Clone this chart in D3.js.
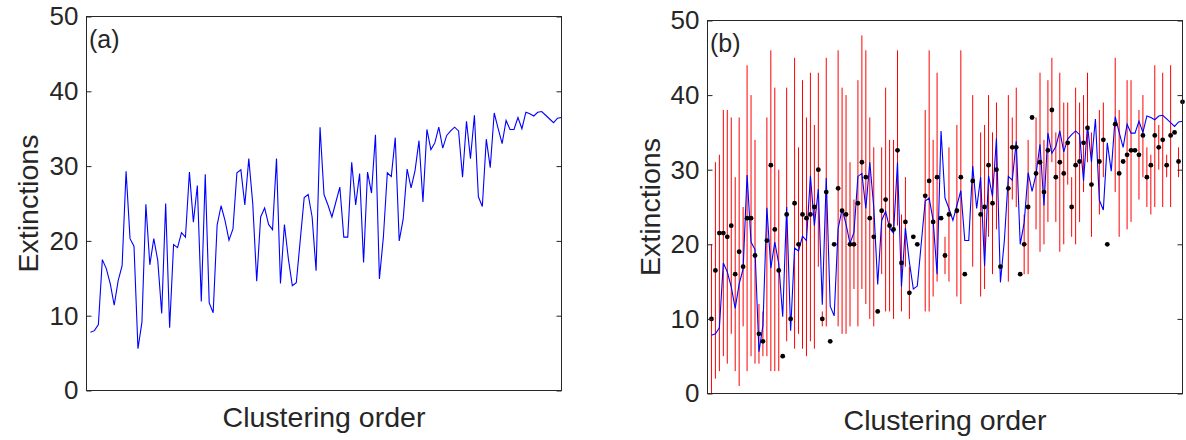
<!DOCTYPE html>
<html>
<head>
<meta charset="utf-8">
<script src="https://cdn.jsdelivr.net/npm/d3@7"></script>
<style>
  html, body { margin: 0; padding: 0; background: #fff; }
  svg { display: block; }
  text { font-family: "Liberation Sans", Arial, Helvetica, sans-serif; fill: #262626; }
</style>
</head>
<body>
<svg id="fig" width="1186" height="440"></svg>
<script>
// Mean extinctions per position in the clustering order (blue line, both panels)
const meanExt = [
  7.8, 8.0, 8.8, 17.5, 16.3, 14.3, 11.4, 14.7, 16.7, 29.3,
  20.3, 19.3, 5.6, 9.1, 24.9, 16.8, 20.3, 17.4, 10.3, 25.0,
  8.4, 19.5, 19.1, 21.1, 20.5, 29.2, 22.5, 27.4, 11.9, 28.9,
  11.7, 10.4, 22.1, 24.7, 22.7, 20.1, 21.6, 29.1, 29.5, 24.8,
  31.0, 25.0, 14.6, 23.2, 24.4, 22.2, 21.5, 31.0, 14.3, 22.2,
  17.6, 14.0, 14.4, 20.1, 25.8, 26.2, 23.2, 16.0, 35.2, 26.2,
  24.8, 23.2, 25.2, 27.2, 20.5, 20.5, 30.5, 24.8, 29.0, 17.1,
  29.2, 26.4, 34.2, 14.9, 20.5, 29.1, 28.6, 33.8, 20.0, 22.9,
  29.6, 27.1, 29.4, 33.4, 25.2, 34.9, 32.2, 33.1, 35.2, 32.4,
  34.1, 34.7, 35.2, 34.7, 28.5, 36.0, 31.0, 36.8, 25.9, 24.6,
  33.6, 29.8, 37.1, 35.0, 33.0, 36.1, 34.9, 34.9, 36.5, 35.0,
  37.2, 37.0, 36.7, 37.2, 37.3, 36.8, 36.3, 35.8, 36.4, 36.5
];

// Observed extinctions (black dots); null = no observation
const observed = [
  10, 16.5, 21.5, 21.5, 21.0, 22.5, 16.0, 19.0, 17.0, 23.5,
  23.5, 18.5, 8.0, 7.0, 20.5, 30.6, 22.0, 16.5, 5.0, 24.0,
  10.0, 25.5, 20.0, 24.0, 23.5, 24.0, 25.0, 30.0, 10.0, 27.0,
  7.0, 20.0, 27.5, 24.5, 24.0, 20.0, 20.0, 25.5, 31.0, 29.0,
  23.5, 21.0, 11.0, 24.5, 26.0, 22.5, 22.0, 32.6, 17.5, 23.0,
  13.5, 21.0, 20.0, null, 26.5, 28.5, 23.0, 29.0, 23.5, 18.5,
  24.0, null, 24.5, 29.0, 16.0, null, 28.5, null, 24.0, 25.0,
  30.6, 25.5, 30.0, 17.0, null, 27.5, 33.0, 33.0, 16.0, 20.0,
  25.0, 37.0, 29.5, 31.0, 27.0, 32.6, 38.0, 29.0, 31.0, 29.5,
  33.6, 25.0, 30.6, 31.1, 33.6, 35.6, 28.0, null, 31.1, 34.0,
  20.0, null, 36.1, 29.5, 31.1, 32.0, 32.6, 32.6, 32.0, 34.6,
  29.0, 30.6, 34.6, 33.0, 34.0, 30.6, 34.6, 35.0, 31.1, 39.1
];

// Range of extinctions (red bars): lower and upper ends; null = no range
const rangeLow = [
  0, 2, 3, 5, 4, 8, 3, 1, 9, 3,
  5, 4, 4, 5, 5, 3, 3, 3, null, 7,
  null, 6, 8, 6, 5, 7, 6, 17, 9, 9,
  null, null, 9, 8, 8, 9, 14, 9, 14, 12,
  10, 9, null, 16, 11, 11, 10, 22.5, 11, 17,
  10, null, null, null, 11, 11, 13, 15, null, 16,
  15, null, 13, 12, null, null, 17, null, 13, 14,
  21, 16, 22, null, null, 15, 26, 25, null, 16,
  16, null, 22, 19, 20, 23, 31, 23, 19, 20,
  28, 21, 20, 23, 27, 31, 21, null, 24, 29,
  null, null, 27, 21, null, 22, 23, null, 26, 29,
  25, 24, 25, 30, 25, 29, 25, null, 29, 37
];
const rangeHigh = [
  20, 31, 32, 38, 38, 37, 29, 37, 25, 44,
  40, 34, 12, 11, 37, 46, 41, 30, null, 41,
  null, 45, 33, 42, 37, 43, 36, 43, 11, 45,
  null, null, 46, 41, 40, 31, 26, 42, 48, 46,
  37, 33, null, 33, 41, 34, 34, 46, 24, 29,
  17, null, null, null, 38, 46, 34, 43, null, 21,
  33, null, 36, 46, null, null, 40, null, 35, 36,
  40, 35, 39, null, null, 40, 37, 41, null, 24,
  34, null, 37, 43, 34, 42, 45, 35, 43, 39,
  39, 29, 41, 39, 40, 43, 35, null, 38, 39,
  null, null, 45, 38, null, 42, 42, null, 38, 40,
  33, 32, 44, 36, 43, 32, 44, null, 33, 41
];

const yTicks = [0, 10, 20, 30, 40, 50];
const panelLabels = ["(a)", "(b)"];
const xTitle = "Clustering order";
const yTitle = "Extinctions";

const n = meanExt.length;
const order = d3.range(1, n + 1);

const svg = d3.select("#fig");
const axisColor = "#262626";

// Panel frames in pixels
const panels = [
  { left: 86.5, right: 561.5, top: 16.5, bottom: 390.5, labelX: 89, labelY: 48, yTitleX: 38, xTitleY: 427 },
  { left: 707.5, right: 1182.5, top: 20.5, bottom: 393.5, labelX: 710, labelY: 52, yTitleX: 660, xTitleY: 430 }
];

function drawFrame(g, p, x, y, idx) {
  // y axis with labels on the left, inward ticks
  const left = g.append("g")
    .attr("transform", `translate(${p.left},0)`)
    .call(d3.axisLeft(y).tickValues(yTicks).tickSize(-5).tickPadding(8).tickFormat(d3.format("d")));
  // mirrored ticks on the right
  const right = g.append("g")
    .attr("transform", `translate(${p.right},0)`)
    .call(d3.axisRight(y).tickValues(yTicks).tickSize(-5).tickFormat(""));
  [left, right].forEach(a => {
    a.select(".domain").remove();
    a.selectAll(".tick line").attr("stroke", axisColor);
    a.selectAll("text").attr("font-size", 26).attr("fill", axisColor)
      .style("font-family", '"Liberation Sans", Arial, sans-serif');
  });
  // box
  g.append("rect")
    .attr("x", p.left).attr("y", p.top)
    .attr("width", p.right - p.left).attr("height", p.bottom - p.top)
    .attr("fill", "none").attr("stroke", axisColor).attr("stroke-width", 1);

  g.append("text")
    .attr("x", p.labelX).attr("y", p.labelY)
    .attr("font-size", 25)
    .text(panelLabels[idx]);

  g.append("text")
    .attr("transform", `translate(${p.yTitleX},${(p.top + p.bottom) / 2}) rotate(-90)`)
    .attr("text-anchor", "middle")
    .attr("font-size", 28.5)
    .text(yTitle);

  g.append("text")
    .attr("x", (p.left + p.right) / 2).attr("y", p.xTitleY)
    .attr("text-anchor", "middle")
    .attr("font-size", 28.5)
    .text(xTitle);
}

// ---- Panel (a): mean extinctions only ----
{
  const p = panels[0];
  const x = d3.scaleLinear().domain([0, n]).range([p.left, p.right]);
  const y = d3.scaleLinear().domain([0, 50]).range([p.bottom, p.top]);
  const g = svg.append("g");
  g.append("path")
    .datum(order)
    .attr("fill", "none")
    .attr("stroke", "#0000ff")
    .attr("stroke-width", 1.1)
    .attr("d", d3.line().x(i => x(i)).y(i => y(meanExt[i - 1])));
  drawFrame(g, p, x, y, 0);
}

// ---- Panel (b): ranges, mean line and observations ----
{
  const p = panels[1];
  const x = d3.scaleLinear().domain([0, n]).range([p.left, p.right]);
  const y = d3.scaleLinear().domain([0, 50]).range([p.bottom, p.top]);
  const g = svg.append("g");

  const withRange = order.filter(i => rangeLow[i - 1] !== null && rangeHigh[i - 1] !== null);
  g.append("g").selectAll("line")
    .data(withRange)
    .join("line")
    .attr("x1", i => x(i)).attr("x2", i => x(i))
    .attr("y1", i => y(rangeLow[i - 1]))
    .attr("y2", i => y(rangeHigh[i - 1]))
    .attr("stroke", "#ff0000")
    .attr("stroke-width", 1);

  g.append("path")
    .datum(order)
    .attr("fill", "none")
    .attr("stroke", "#0000ff")
    .attr("stroke-width", 1.1)
    .attr("d", d3.line().x(i => x(i)).y(i => y(meanExt[i - 1])));

  const withObs = order.filter(i => observed[i - 1] !== null);
  g.append("g").selectAll("circle")
    .data(withObs)
    .join("circle")
    .attr("cx", i => x(i))
    .attr("cy", i => y(observed[i - 1]))
    .attr("r", 2.4)
    .attr("fill", "#000");

  drawFrame(g, p, x, y, 1);
}
</script>
</body>
</html>
